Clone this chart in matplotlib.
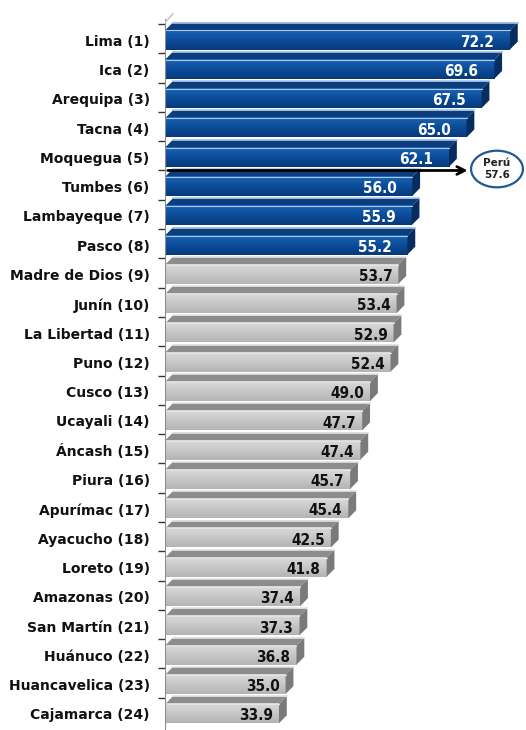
import numpy as np
import matplotlib
matplotlib.use("Agg")
import matplotlib.pyplot as plt
from matplotlib.patches import Polygon, Ellipse
from matplotlib.colors import LinearSegmentedColormap

regions = ["Lima", "Ica", "Arequipa", "Tacna", "Moquegua", "Tumbes", "Lambayeque",
           "Pasco", "Madre de Dios", "Junín", "La Libertad", "Puno", "Cusco", "Ucayali",
           "Áncash", "Piura", "Apurímac", "Ayacucho", "Loreto", "Amazonas", "San Martín",
           "Huánuco", "Huancavelica", "Cajamarca"]
values = [72.2, 69.6, 67.5, 65.0, 62.1, 56.0, 55.9, 55.2, 53.7, 53.4, 52.9, 52.4,
          49.0, 47.7, 47.4, 45.7, 45.4, 42.5, 41.8, 37.4, 37.3, 36.8, 35.0, 33.9]
n_blue = 8
peru_label = "Perú"
peru_value = 57.6

x0 = 15.0      # where the wall starts
dx = 1.3       # depth offset (data units)
dy = 0.27      # depth offset (rows)

fig = plt.figure(figsize=(5.26, 7.30), dpi=100)
ax = fig.add_axes([165 / 526, 0, 361 / 526, 1])
ax.set_xlim(x0, x0 + 361 / 6.03)
ax.set_ylim(24.1, -0.82)

blue_grad = LinearSegmentedColormap.from_list("b", ["#1c64b4", "#0b4c9a", "#083a7a"])
gray_grad = LinearSegmentedColormap.from_list("g", ["#dadada", "#c8c8c8", "#b4b4b4"])
grad = np.linspace(0, 1, 50).reshape(-1, 1)

for i, v in enumerate(values):
    blue = i < n_blue
    top_c = "#0d3d7c" if blue else "#8c8c8c"
    side_c = "#072c5e" if blue else "#7a7a7a"
    edge_c = "#a4c8ea" if blue else "#e2e2e2"
    yt, yb = i + 0.22, i + 0.87
    # top face
    ax.add_patch(Polygon([(x0, yt), (v, yt), (v + dx, yt - dy), (x0 + dx, yt - dy)],
                         closed=True, fc=top_c, ec="none", zorder=2))
    ax.plot([x0 + dx, v + dx], [yt - dy, yt - dy], color=edge_c, lw=1.2, zorder=3)
    # front face
    ax.imshow(grad, extent=[x0, v, yb, yt], cmap=blue_grad if blue else gray_grad,
              aspect="auto", zorder=2, interpolation="bilinear")
    ax.plot([x0, v], [yt, yt], color=edge_c, lw=0.8, zorder=3)
    # side face
    ax.add_patch(Polygon([(v, yt), (v + dx, yt - dy), (v + dx, yb - dy), (v, yb)],
                         closed=True, fc=side_c, ec="none", zorder=2))
    gap = 2.6 if blue else 1.0
    ax.text(v - gap, i + 0.62, f"{v:.1f}", ha="right", va="center",
            fontsize=11, fontweight="bold", fontstretch="condensed",
            color="white" if blue else "#111111", zorder=4)

# wall
ax.plot([x0, x0], [-0.15, 24.1], color="#8a8a8a", lw=1.5, zorder=5)
ax.plot([x0, x0 + dx], [-0.05, -0.35], color="#c8c8c8", lw=1.2, zorder=5)

ax.set_yticks(np.arange(len(values)) + 0.55)
ax.set_yticklabels([f"{r} ({i + 1})" for i, r in enumerate(regions)],
                   fontsize=10, fontweight="bold", color="#111111")
ax.set_yticks(np.arange(len(values)), minor=True)
ax.tick_params(axis="y", which="major", length=0, pad=11)
ax.tick_params(axis="y", which="minor", length=5, width=1, color="#333333")
ax.set_xticks([])
for s in ax.spines.values():
    s.set_visible(False)

# national average
ell_x = x0 + 332 / 6.03
ax.annotate("", xy=(ell_x - 4.4, 5.0), xytext=(x0, 5.0),
            arrowprops=dict(arrowstyle="->", color="black", lw=2, mutation_scale=14),
            zorder=6, annotation_clip=False)
ax.add_patch(Ellipse((ell_x, 4.95), 8.6, 1.25, fc="white", ec="#1f5a92", lw=1.6,
                     zorder=6, clip_on=False))
ax.text(ell_x, 4.95, f"{peru_label}\n{peru_value}", ha="center", va="center",
        fontsize=7.5, fontweight="bold", color="#222222", zorder=7,
        linespacing=1.2)

fig.savefig("out.png", dpi=100)
